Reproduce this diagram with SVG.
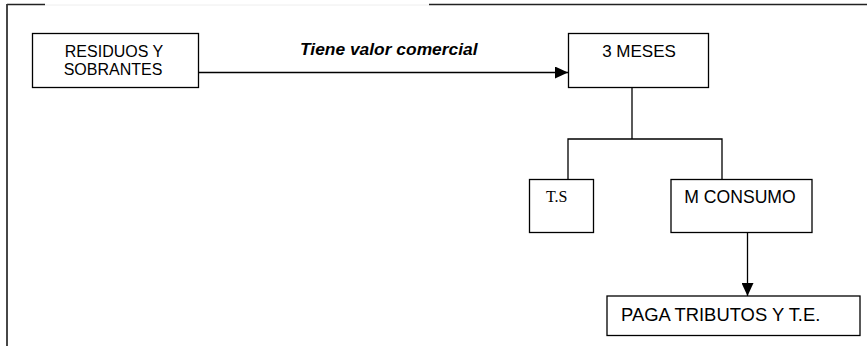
<svg xmlns="http://www.w3.org/2000/svg" width="867" height="346" viewBox="0 0 867 346">
<style>
.box{fill:#fff;stroke:#000;stroke-width:1.3}
.ln{fill:none;stroke:#000;stroke-width:1.3}
.t{font-family:"Liberation Sans",Arial,sans-serif;font-size:17px;fill:#000}
.ts{font-family:"Liberation Serif","Times New Roman",serif;font-size:16px;fill:#000}
.lbl{font-family:"Liberation Sans",Arial,sans-serif;font-size:17.4px;font-weight:bold;font-style:italic;fill:#000}
</style>
<defs>
<marker id="ah" markerWidth="13" markerHeight="12" refX="13" refY="6" orient="auto" markerUnits="userSpaceOnUse">
<path d="M0,0 L13,6 L0,12 Z" fill="#000"/>
</marker>
</defs>
<rect width="867" height="346" fill="#fff"/>
<g id="frame">
<line x1="7" y1="4.5" x2="45" y2="4.5" stroke="#222" stroke-width="1.4"/>
<line x1="45" y1="5" x2="429" y2="5" stroke="#eee" stroke-width="1"/>
<line x1="429" y1="4.5" x2="867" y2="4.5" stroke="#222" stroke-width="1.4"/>
<line x1="7" y1="4" x2="7" y2="346" stroke="#333" stroke-width="1.8"/>
</g>
<g id="connectors">
<line class="ln" x1="199" y1="72.5" x2="568" y2="72.5" marker-end="url(#ah)"/>
<text class="lbl" x="300" y="55">Tiene valor comercial</text>
<polyline class="ln" points="632,87 632,139"/>
<polyline class="ln" points="568,179 568,139 722,139 722,179"/>
<line class="ln" x1="747.5" y1="232" x2="747.5" y2="296" marker-end="url(#ah)"/>
</g>
<g id="residuos">
<rect class="box" x="32.5" y="33.5" width="166" height="54"/>
<text class="t" x="114" y="57" text-anchor="middle" style="font-size:16px">RESIDUOS Y</text>
<text class="t" x="113" y="75" text-anchor="middle" style="font-size:16px">SOBRANTES</text>
</g>
<g id="meses">
<rect class="box" x="568.5" y="33.5" width="140" height="54"/>
<text class="t" x="639" y="57" text-anchor="middle">3 MESES</text>
</g>
<g id="ts">
<rect class="box" x="529.5" y="179.5" width="64" height="53"/>
<text class="ts" x="546" y="202">T.S</text>
</g>
<g id="consumo">
<rect class="box" x="671" y="179.5" width="141" height="53"/>
<text class="t" x="740" y="203" text-anchor="middle" style="font-size:17.6px">M CONSUMO</text>
</g>
<g id="paga">
<rect class="box" x="607" y="296" width="253" height="39.5"/>
<text class="t" x="621" y="321" style="font-size:18.4px">PAGA TRIBUTOS Y T.E.</text>
</g>
</svg>
